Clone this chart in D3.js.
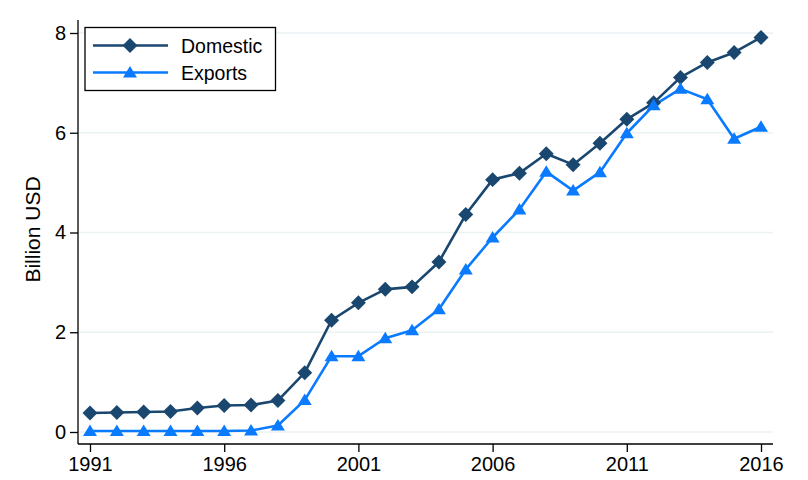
<!DOCTYPE html>
<html>
<head>
<meta charset="utf-8">
<script src="https://cdn.jsdelivr.net/npm/d3@7"></script>
<style>
  body { margin: 0; background: #fff; }
  text { font-family: "Liberation Sans", Arial, sans-serif; }
</style>
</head>
<body>
<svg id="chart" width="808" height="480"></svg>
<script>
const years = d3.range(1991, 2017);
const domestic = [0.38, 0.39, 0.40, 0.41, 0.48, 0.53, 0.54, 0.63, 1.19, 2.24, 2.59, 2.86, 2.91, 3.41, 4.36, 5.06, 5.19, 5.58, 5.36, 5.79, 6.27, 6.60, 7.11, 7.41, 7.61, 7.91];
const exports_ = [0.02, 0.02, 0.02, 0.02, 0.02, 0.02, 0.03, 0.13, 0.64, 1.52, 1.52, 1.88, 2.04, 2.46, 3.26, 3.90, 4.46, 5.22, 4.84, 5.21, 5.99, 6.55, 6.88, 6.67, 5.88, 6.12];
const xTicks = [1991, 1996, 2001, 2006, 2011, 2016];
const yTicks = [0, 2, 4, 6, 8];
const seriesNames = ["Domestic", "Exports"];
const colors = ["#1a476f", "#0a7bff"];

const svg = d3.select("#chart");
const pLeft = 78, pRight = 773, pTop = 20, pBottom = 444;

const x = d3.scaleLinear().domain([1991, 2016]).range([90, 761]);
const y = d3.scaleLinear().domain([0, 8]).range([432, 33]);

// gridlines
svg.append("g").selectAll("line").data(yTicks).join("line")
  .attr("x1", pLeft).attr("x2", pRight)
  .attr("y1", d => y(d)).attr("y2", d => y(d))
  .attr("stroke", "#eaf2f3").attr("stroke-width", 1.5);

// axes
const yAxis = d3.axisLeft(y).tickValues(yTicks).tickSize(8).tickPadding(4).tickSizeOuter(0);
const gy = svg.append("g").attr("transform", `translate(${pLeft},0)`).call(yAxis);
gy.select(".domain").remove();
gy.append("line").attr("x1", 0).attr("x2", 0).attr("y1", pTop).attr("y2", pBottom).attr("stroke", "#000").attr("stroke-width", 1.3);

const xAxis = d3.axisBottom(x).tickValues(xTicks).tickFormat(d3.format("d")).tickSize(8).tickPadding(5).tickSizeOuter(0);
const gx = svg.append("g").attr("transform", `translate(0,${pBottom})`).call(xAxis);
gx.select(".domain").remove();
gx.append("line").attr("x1", pLeft).attr("x2", pRight).attr("y1", 0).attr("y2", 0).attr("stroke", "#000").attr("stroke-width", 1.3);

[gx, gy].forEach(g => {
  g.selectAll(".tick line").attr("stroke", "#000").attr("stroke-width", 1.3);
  g.selectAll(".tick text").attr("fill", "#000").style("font-size", "20px").style("font-family", "'Liberation Sans', Arial, sans-serif");
});

// y title
svg.append("text")
  .attr("transform", `translate(40,229.5) rotate(-90)`)
  .attr("text-anchor", "middle")
  .style("font-size", "21px")
  .text("Billion USD");

const diamond = d3.symbol().type(d3.symbolSquare).size(112);
const triPath = "M0,-6.5 L7,5 L-7,5 Z";

const data = [domestic, exports_];
const line = d3.line().x((d, i) => x(years[i])).y(d => y(d));

data.forEach((vals, k) => {
  svg.append("path").datum(vals)
    .attr("d", line)
    .attr("fill", "none").attr("stroke", colors[k]).attr("stroke-width", 2.6)
    .attr("stroke-linejoin", "round");
});

// markers
svg.append("g").selectAll("path").data(domestic).join("path")
  .attr("transform", (d, i) => `translate(${x(years[i])},${y(d)}) rotate(45)`)
  .attr("d", diamond).attr("fill", colors[0]);

svg.append("g").selectAll("path").data(exports_).join("path")
  .attr("transform", (d, i) => `translate(${x(years[i])},${y(d)})`)
  .attr("d", triPath).attr("fill", colors[1]);

// legend
const lg = svg.append("g");
lg.append("rect").attr("x", 85).attr("y", 27.5).attr("width", 190.5).attr("height", 63)
  .attr("fill", "#fff").attr("stroke", "#000").attr("stroke-width", 1.3);
const rowsY = [45.5, 72.5];
seriesNames.forEach((name, k) => {
  lg.append("line").attr("x1", 93).attr("x2", 168).attr("y1", rowsY[k]).attr("y2", rowsY[k])
    .attr("stroke", colors[k]).attr("stroke-width", 2.6);
  if (k === 0) {
    lg.append("path").attr("transform", `translate(130,${rowsY[k]}) rotate(45)`).attr("d", diamond).attr("fill", colors[0]);
  } else {
    lg.append("path").attr("transform", `translate(130,${rowsY[k]})`).attr("d", triPath).attr("fill", colors[1]);
  }
  lg.append("text").attr("x", 181).attr("y", rowsY[k] + 7).style("font-size", "19.5px").text(name);
});
</script>
</body>
</html>
